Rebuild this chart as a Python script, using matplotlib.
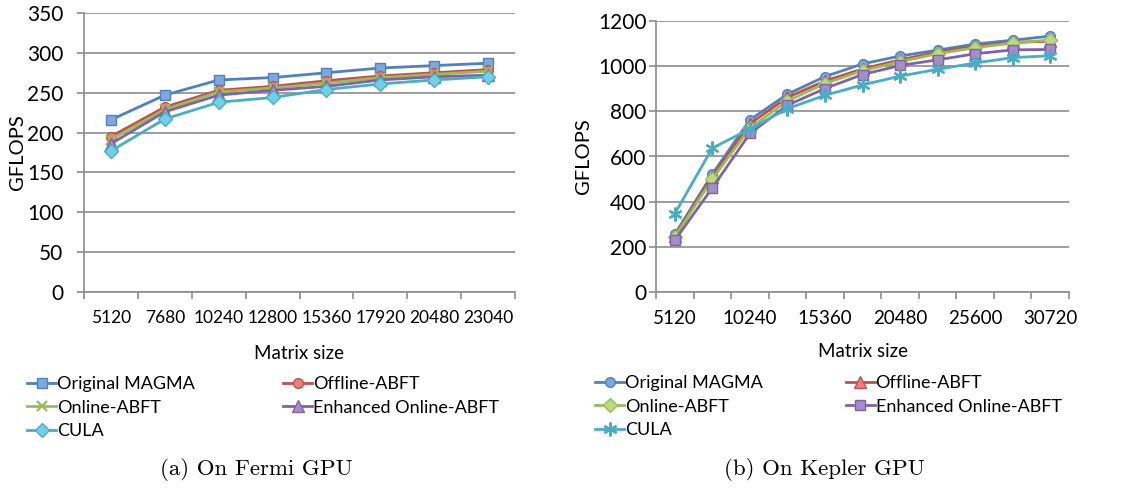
import numpy as np
import matplotlib
matplotlib.use('Agg')
import matplotlib.pyplot as plt

plt.rcParams['font.family'] = ['Lato', 'DejaVu Sans']

series = ['Original MAGMA', 'Offline-ABFT', 'Online-ABFT',
          'Enhanced Online-ABFT', 'CULA']

fermi_sizes = [5120, 7680, 10240, 12800, 15360, 17920, 20480, 23040]
fermi_magma = [216, 247, 266, 269, 275, 281, 284, 287]
fermi_offline = [195, 232, 253, 258, 265, 271, 275, 279]
fermi_online = [191, 229, 251, 256, 262, 269, 273, 277]
fermi_enhanced = [186, 226, 247, 253, 258, 266, 270, 272]
fermi_cula = [177, 217, 238, 244, 254, 261, 266, 270]

kepler_sizes = [5120, 7680, 10240, 12800, 15360, 17920, 20480, 23040,
                25600, 28160, 30720]
kepler_magma = [255, 522, 762, 876, 954, 1010, 1045, 1071, 1098, 1115, 1133]
kepler_offline = [250, 510, 745, 862, 934, 988, 1028, 1062, 1088, 1106, 1110]
kepler_online = [244, 500, 726, 846, 923, 980, 1020, 1055, 1082, 1102, 1116]
kepler_enhanced = [229, 461, 702, 827, 901, 963, 1003, 1028, 1055, 1072, 1074]
kepler_cula = [347, 637, 722, 812, 871, 917, 956, 986, 1014, 1038, 1046]

colors = ['#4F81BD', '#C0504D', '#9BBB59', '#8064A2', '#4BACC6']
faces = ['#7FA7DC', '#E8807D', '#BBD882', '#A68CC8', '#72CFE6']
grid_c = '#8C8C8C'


def draw(ax, sizes, data, markers, ymax, ystep, label_every, ylabel_x, ypad, xsize):
    x = np.arange(len(sizes))
    handles = []
    for vals, name, c, fc, m in zip(data, series, colors, faces, markers):
        ms = 8 if m == '^' else 7
        h, = ax.plot(x, vals, color=c, lw=2.0, marker=m, ms=ms,
                     mfc=c if m == 'x' else fc, mec=c,
                     mew=1.6 if m == 'x' else 1.0, label=name)
        if m == (6, 2, 0):
            h.set_markeredgewidth(1.6)
            h.set_markersize(10)
        handles.append(h)
    ax.set_xlim(-0.5, len(sizes) - 0.5)
    ax.set_ylim(0, ymax)
    ax.set_yticks(np.arange(0, ymax + 1, ystep))
    ax.set_xticks(x)
    ax.set_xticklabels([str(s) if i % label_every == 0 else '' for i, s in enumerate(sizes)])
    ax.set_xticks(np.arange(-0.5, len(sizes)), minor=True)
    ax.tick_params(axis='x', which='major', length=0, pad=13, labelsize=xsize)
    ax.tick_params(axis='x', which='minor', length=5, width=1.2, color=grid_c, direction='out')
    ax.tick_params(axis='y', length=5, width=1.2, color=grid_c, labelsize=15, pad=ypad)
    ax.grid(axis='y', color=grid_c, lw=1.2)
    ax.set_axisbelow(True)
    for s in ('top', 'right'):
        ax.spines[s].set_visible(False)
    for s in ('left', 'bottom'):
        ax.spines[s].set_color(grid_c)
        ax.spines[s].set_linewidth(1.2)
    ax.set_xlabel('Matrix size', fontsize=13.5)
    ax.set_ylabel('GFLOPS', fontsize=14.5)
    ax.yaxis.set_label_coords(ylabel_x, 0.5)
    order = [0, 2, 4, 1, 3]
    return [handles[i] for i in order], [series[i] for i in order]


fig = plt.figure(figsize=(11.21, 4.94), dpi=100)
ax1 = fig.add_axes([84 / 1121, 202 / 494, 431 / 1121, 279 / 494])
ax2 = fig.add_axes([656 / 1121, 202 / 494, 413 / 1121, 271 / 494])

h1, l1 = draw(ax1, fermi_sizes,
              [fermi_magma, fermi_offline, fermi_online, fermi_enhanced, fermi_cula],
              ['s', 'o', 'x', '^', 'D'], 350, 50, 1, -0.135, 10, 12.5)
h2, l2 = draw(ax2, kepler_sizes,
              [kepler_magma, kepler_offline, kepler_online, kepler_enhanced, kepler_cula],
              ['o', '^', 'D', 's', (6, 2, 0)], 1200, 200, 2, -0.155, 2, 13.5)
ax1.xaxis.set_label_coords(0.5, -0.19)
ax2.xaxis.set_label_coords(0.5, -0.19)

leg_kw = dict(ncol=2, frameon=False, fontsize=13, handlelength=1.6,
              handletextpad=0.05, labelspacing=0.42, borderaxespad=0,
              loc='upper left')
fig.legend(h1, l1, bbox_to_anchor=(20 / 1121, 1 - 369 / 494),
           columnspacing=4.9, **leg_kw)
fig.legend(h2, l2, bbox_to_anchor=(588 / 1121, 1 - 368 / 494),
           columnspacing=4.6, **leg_kw)

fig.text(256 / 1121, 1 - 469 / 494, '(a) On Fermi GPU', family='cmr10',
         fontsize=16.5, ha='center', va='center')
fig.text(824 / 1121, 1 - 469 / 494, '(b) On Kepler GPU', family='cmr10',
         fontsize=16.5, ha='center', va='center')

fig.savefig('out.png', dpi=100)
